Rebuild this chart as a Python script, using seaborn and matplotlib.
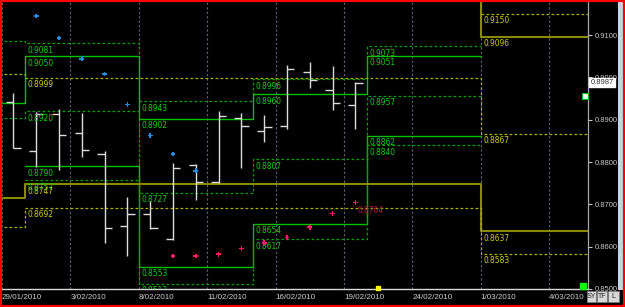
import matplotlib
matplotlib.use("Agg")
import matplotlib.pyplot as plt
import seaborn as sns
import numpy as np
import pandas as pd
from matplotlib.transforms import blended_transform_factory
from matplotlib.patches import Rectangle

# ---------------- data ----------------
calendar = ['29/01', '1/02', '2/02', '3/02', '4/02', '5/02', '8/02', '9/02', '10/02',
            '11/02', '12/02', '15/02', '16/02', '17/02', '18/02', '19/02', '22/02',
            '23/02', '24/02', '25/02', '26/02', '1/03', '2/03', '3/03', '4/03', '5/03']
tick_days = ['29/01', '3/02', '8/02', '11/02', '16/02', '19/02', '24/02', '1/03', '4/03']
tick_labels = ['29/01/2010', '3/02/2010', '8/02/2010', '11/02/2010', '16/02/2010',
               '19/02/2010', '24/02/2010', '1/03/2010', '4/03/2010']

bar_days = calendar[:16]
opens = [0.8941, 0.8826, 0.8913, 0.8868, 0.8819, 0.8649, 0.8677, 0.8619, 0.8793,
         0.8752, 0.8904, 0.8874, 0.8886, 0.9012, 0.8969, 0.8935]
highs = [0.8964, 0.8918, 0.8926, 0.8915, 0.8826, 0.8718, 0.8707, 0.8797, 0.8796,
         0.8921, 0.8915, 0.8910, 0.9028, 0.9036, 0.9027, 0.8989]
lows = [0.8834, 0.8789, 0.8780, 0.8813, 0.8608, 0.8578, 0.8641, 0.8616, 0.8710,
        0.8750, 0.8787, 0.8848, 0.8878, 0.8974, 0.8923, 0.8879]
closes = [0.8834, 0.8913, 0.8863, 0.8828, 0.8645, 0.8678, 0.8644, 0.8786, 0.8752,
          0.8908, 0.8885, 0.8882, 0.9019, 0.8993, 0.8939, 0.8987]

sar_down_days = ['1/02', '2/02', '3/02', '4/02', '5/02', '8/02', '9/02', '10/02']
sar_down = [0.9145, 0.9093, 0.9044, 0.9008, 0.8936, 0.8863, 0.8819, 0.8779]
sar_up_days = ['9/02', '10/02', '11/02', '12/02', '15/02', '16/02', '17/02', '18/02', '19/02']
sar_up = [0.8578, 0.8578, 0.8582, 0.8596, 0.8609, 0.8622, 0.8646, 0.8678, 0.8704]
sar_next_label = '0.8704'

# weekly levels: period before 1/02, then weeks starting 1/02, 8/02, 15/02, 22/02
week_starts = ['1/02', '8/02', '15/02', '22/02', '1/03']
wk_r = [0.9086, 0.9081, 0.8943, 0.8996, 0.9073]
wk_h = [0.8940, 0.9050, 0.8902, 0.8960, 0.9051]
wk_m = [0.8903, 0.8920, 0.8727, 0.8807, 0.8957]
wk_l = [np.nan, 0.8790, 0.8553, 0.8654, 0.8862]
wk_s = [np.nan, 0.8757, 0.8512, 0.8617, 0.8840]

# monthly levels: January, February, March
month_starts = ['1/02', '1/03']
mo_r = [np.nan, 0.9240, 0.9150]
mo_h = [np.nan, 0.9195, 0.9096]
mo_m = [0.9008, 0.8999, 0.8867]
mo_l = [0.8714, 0.8747, 0.8637]
mo_s = [0.8646, 0.8692, 0.8583]

last_price = 0.8987
yticks = [0.85, 0.86, 0.87, 0.88, 0.89, 0.90, 0.91]

# ---------------- style ----------------
sns.set_theme(style="dark", rc={"axes.facecolor": "black", "figure.facecolor": "black"})
plt.rcParams['font.family'] = ['Liberation Sans', 'DejaVu Sans']

fig = plt.figure(figsize=(6.25, 3.07), dpi=100, facecolor='black')
ax = fig.add_axes([2 / 625, 18 / 307, 586 / 625, 287 / 307])
ax.set_facecolor('black')

pos = {d: i for i, d in enumerate(calendar)}
xb = np.array([pos[d] for d in bar_days], dtype=float)

ax.set_xlim(-0.5, 25.2)
ax.set_ylim(0.8500, 0.9178)

# grid (every 3 trading days, at day boundaries)
for d in tick_days:
    ax.axvline(pos[d] - 0.5, color='#5c6478', lw=0.8, ls=(0, (2, 2)), zorder=1)

GREEN_S = '#00c000'
GREEN_D = '#00a000'
YEL_S = '#8a8a00'
YEL_D = '#b0b000'
DASH = (0, (2.2, 1.8))

# weekly step levels
wk_edges = [-1.0] + [pos[d] - 0.5 for d in week_starts]
for vals, solid in [(wk_r, False), (wk_h, True), (wk_m, False), (wk_l, True), (wk_s, False)]:
    ax.step(wk_edges, list(vals) + [vals[-1]], where='post',
            color=GREEN_S if solid else GREEN_D, lw=1.0 if solid else 0.9,
            ls='-' if solid else DASH, zorder=2)

# monthly step levels
mo_edges = [-1.0] + [pos[d] - 0.5 for d in month_starts] + [26.0]
for vals, solid in [(mo_r, False), (mo_h, True), (mo_m, False), (mo_l, True), (mo_s, False)]:
    ax.step(mo_edges, list(vals) + [vals[-1]], where='post',
            color=YEL_S if solid else YEL_D, lw=1.5 if solid else 0.9,
            ls='-' if solid else DASH, zorder=2)

label_kw = dict(fontsize=6, fontstretch='condensed', family='DejaVu Sans',
                va='top', ha='left', textcoords='offset points', xytext=(1.6, -1.8),
                clip_on=True, zorder=4)

# weekly labels (not for the period before 1/02)
for k in range(1, len(wk_edges) - 1):
    for vals in (wk_r, wk_h, wk_m, wk_l, wk_s):
        v = vals[k]
        if not np.isnan(v):
            ax.annotate(f'{v:.4f}', xy=(wk_edges[k], v), color='#10d010', **label_kw)

# monthly labels
for k in range(1, len(mo_edges) - 1):
    for vals in (mo_r, mo_h, mo_m, mo_l, mo_s):
        v = vals[k]
        if not np.isnan(v) and v < 0.917:
            ax.annotate(f'{v:.4f}', xy=(mo_edges[k], v), color='#d0d000', **label_kw)

# OHLC bars
bar_col = '#dcdcdc'
tick_w = 0.32
ax.vlines(xb, lows, highs, color=bar_col, lw=1.0, zorder=3)
ax.hlines(opens, xb - tick_w, xb, color=bar_col, lw=1.0, zorder=3)
ax.hlines(closes, xb, xb + tick_w, color=bar_col, lw=1.0, zorder=3)

# parabolic SAR dots
sar_df = pd.DataFrame({
    'x': [pos[d] for d in sar_down_days] + [pos[d] for d in sar_up_days],
    'y': sar_down + sar_up,
    'side': ['down'] * len(sar_down) + ['up'] * len(sar_up),
})
sns.scatterplot(data=sar_df, x='x', y='y', hue='side',
                palette={'down': '#1e8ce0', 'up': '#ff1a6a'},
                marker='P', s=12, linewidth=0, legend=False, ax=ax, zorder=5)
ax.annotate(sar_next_label, xy=(pos[sar_up_days[-1]], sar_up[-1]), xytext=(1.2, -2.5),
            textcoords='offset points', va='top', ha='left', fontsize=6,
            fontstretch='condensed', family='DejaVu Sans', color='#c0104a', zorder=4)

# axes styling
ax.yaxis.tick_right()
ax.set_yticks(yticks)
ax.set_yticklabels([f'{v:.4f}' for v in yticks])
ax.tick_params(axis='y', colors='#c8c8c8', labelsize=5.5, length=3, width=0.8,
               direction='out', pad=2, right=True, left=False)
ax.set_xticks([pos[d] - 0.5 for d in tick_days])
ax.set_xticklabels(tick_labels, ha='left')
ax.tick_params(axis='x', colors='#d0d0d0', labelsize=5.8, length=0, pad=3.5)
ax.set_xlabel('')
ax.set_ylabel('')
ax.grid(False)
for s in ['top', 'left']:
    ax.spines[s].set_visible(False)
ax.spines['bottom'].set_color('#d8d8d8')
ax.spines['bottom'].set_linewidth(1.0)
ax.spines['right'].set_color('#a8a8a8')
ax.spines['right'].set_linewidth(0.9)

# last price tag
bt = blended_transform_factory(ax.transAxes, ax.transData)
ax.text(1.004, last_price, f'{last_price:.4f}', transform=bt, va='center', ha='left',
        fontsize=5.5, color='#303030', zorder=6, clip_on=False,
        bbox=dict(boxstyle='square,pad=0.15', fc='white', ec='white'))

# small markers
ax.plot([0.995], [0.8956], transform=bt, marker='s', ms=4, mfc='white', mec='#00c000',
        mew=0.8, clip_on=False, zorder=6)
ax.plot([0.992], [0.012], transform=ax.transAxes, marker='s', ms=4.5, color='#00ff00',
        clip_on=False, zorder=6)
ax.plot([pos['22/02']], [0.002], transform=blended_transform_factory(ax.transData, ax.transAxes),
        marker='s', ms=2.5, color='#ffff00', clip_on=False, zorder=6)

# side strip, buttons, border
fig.patches.append(Rectangle((618 / 625, 17 / 307), 5 / 625, 288 / 307, transform=fig.transFigure,
                             fc='#c8d2e4', ec='none'))
for lbl, x0, w in [('SY', 587, 9), ('TF', 597, 10), ('L', 608, 11)]:
    fig.patches.append(Rectangle((x0 / 625, 5 / 307), w / 625, 11 / 307, transform=fig.transFigure,
                                 fc='#d8d8d8', ec='#808080', lw=0.5))
    fig.text((x0 + w / 2) / 625, 10.5 / 307, lbl, fontsize=5, color='#202020', ha='center',
             va='center')
fig.patches.append(Rectangle((0.0015, 0.003), 0.997, 0.994, transform=fig.transFigure,
                             fill=False, ec='#ff0000', lw=1.6))

fig.savefig('out.png', dpi=100, facecolor='black')
